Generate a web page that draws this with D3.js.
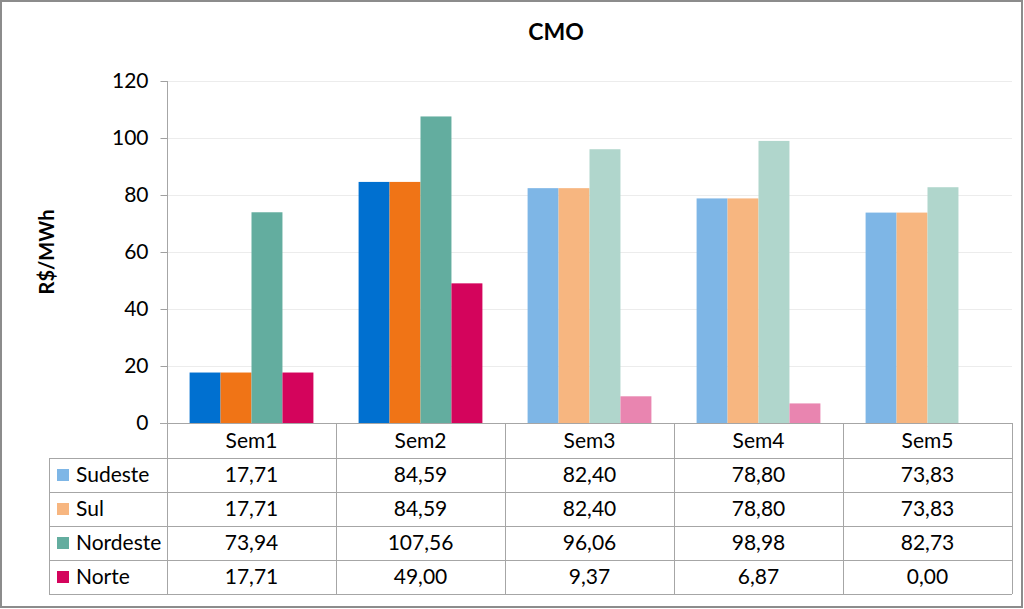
<!DOCTYPE html>
<html><head><meta charset="utf-8">
<script src="https://cdn.jsdelivr.net/npm/d3@7"></script>
<style>
html,body{margin:0;padding:0;background:#fff;}
svg{display:block;font-family:Lato,"Open Sans",sans-serif;}
</style></head>
<body><svg id="c" width="1024" height="609"></svg>
<script>
const title = "CMO";
const yLabel = "R$/MWh";
const categories = ["Sem1","Sem2","Sem3","Sem4","Sem5"];
const seriesNames = ["Sudeste","Sul","Nordeste","Norte"];
const sudeste  = [17.71, 84.59, 82.40, 78.80, 73.83];
const sul      = [17.71, 84.59, 82.40, 78.80, 73.83];
const nordeste = [73.94, 107.56, 96.06, 98.98, 82.73];
const norte    = [17.71, 49.00, 9.37, 6.87, 0.00];
const yTicks = [0,20,40,60,80,100,120];
const fadedCategories = ["Sem3","Sem4","Sem5"];

const seriesValues = [sudeste, sul, nordeste, norte];
const fullColors  = ["#0070d0","#f07416","#63ad9f","#d4045c"];
const lightColors = ["#7eb6e6","#f7b680","#b0d6cc","#e985b0"];
const legendColors = ["#7eb6e6","#f7b680","#63ad9f","#d4045c"];

const fmt = v => v.toFixed(2).replace(".", ",");
const FS = 21;

const svg = d3.select("#c");
svg.append("rect").attr("x",1).attr("y",1).attr("width",1021).attr("height",606)
  .attr("fill","#fff").attr("stroke","#8c8c8c").attr("stroke-width",2);

const pLeft = 167, pRight = 1012, pTop = 81, pBottom = 423;
const x = d3.scaleBand().domain(categories).range([pLeft,pRight]).paddingInner(0).paddingOuter(0);
const y = d3.scaleLinear().domain([0,120]).range([pBottom,pTop]);
const xs = d3.scaleBand().domain(seriesNames).range([0,x.bandwidth()]).paddingOuter(0.73).paddingInner(0);

svg.append("g").selectAll("line").data(yTicks.filter(t=>t>0)).join("line")
  .attr("x1",pLeft).attr("x2",pRight).attr("y1",d=>Math.round(y(d))+0.5).attr("y2",d=>Math.round(y(d))+0.5)
  .attr("stroke","#ececec").attr("stroke-width",1);

svg.append("text").attr("x",556).attr("y",40).attr("text-anchor","middle")
  .attr("font-size",23).attr("font-weight","bold").attr("fill","#000").text(title);

svg.append("text").attr("transform","translate(54,252) rotate(-90)").attr("text-anchor","middle")
  .attr("font-size",20).attr("font-weight","bold").attr("fill","#000").text(yLabel);

const g = svg.append("g");
categories.forEach((c,ci)=>{
  const faded = fadedCategories.includes(c);
  seriesNames.forEach((s,si)=>{
    const v = seriesValues[si][ci];
    g.append("rect")
      .attr("x", x(c)+xs(s)).attr("width", xs.bandwidth())
      .attr("y", y(v)).attr("height", pBottom - y(v))
      .attr("fill", faded ? lightColors[si] : fullColors[si]);
  });
});

const yAxis = d3.axisLeft(y).tickValues(yTicks).tickSize(7).tickPadding(12).tickFormat(d3.format("d"));
const ya = svg.append("g").attr("transform",`translate(${pLeft+0.5},0)`).call(yAxis);
ya.select(".domain").remove();
ya.selectAll(".tick line").attr("stroke","#a0a0a0");
ya.selectAll(".tick text").attr("font-size",FS).attr("fill","#000").attr("font-family","Lato,'Open Sans',sans-serif");

const rowTop = 423, headH = 35, rowH = 34;
const tableLeft = 49;
const lineColor = "#a6a6a6";
const tg = svg.append("g");
tg.append("line").attr("x1",pLeft-7).attr("x2",pRight).attr("y1",rowTop+0.5).attr("y2",rowTop+0.5).attr("stroke",lineColor);
const nRows = seriesNames.length;
for(let i=0;i<=nRows;i++){
  const yy = rowTop+headH+i*rowH+0.5;
  tg.append("line").attr("x1",tableLeft).attr("x2",pRight).attr("y1",yy).attr("y2",yy).attr("stroke",lineColor);
}
const tableBottom = rowTop+headH+nRows*rowH;
tg.append("line").attr("x1",tableLeft+0.5).attr("x2",tableLeft+0.5).attr("y1",rowTop+headH).attr("y2",tableBottom).attr("stroke",lineColor);
tg.append("line").attr("x1",pLeft+0.5).attr("x2",pLeft+0.5).attr("y1",pTop).attr("y2",tableBottom).attr("stroke",lineColor);
categories.forEach(c=>{
  const xx = x(c)+x.bandwidth()+0.5;
  tg.append("line").attr("x1",xx).attr("x2",xx).attr("y1",rowTop).attr("y2",tableBottom).attr("stroke",lineColor);
});
tg.selectAll("text.h").data(categories).join("text").attr("class","h")
  .attr("x",d=>x(d)+x.bandwidth()/2).attr("y",rowTop+headH/2+7).attr("text-anchor","middle")
  .attr("font-size",FS).attr("fill","#000").text(d=>d);
seriesNames.forEach((s,si)=>{
  const cy = rowTop+headH+si*rowH+rowH/2;
  tg.append("rect").attr("x",57).attr("y",cy-6).attr("width",12).attr("height",12).attr("fill",legendColors[si]);
  tg.append("text").attr("x",76).attr("y",cy+7).attr("font-size",FS).attr("fill","#000").text(s);
  categories.forEach((c,ci)=>{
    tg.append("text").attr("x",x(c)+x.bandwidth()/2).attr("y",cy+7).attr("text-anchor","middle")
      .attr("font-size",FS).attr("fill","#000").text(fmt(seriesValues[si][ci]));
  });
});
</script></body></html>
